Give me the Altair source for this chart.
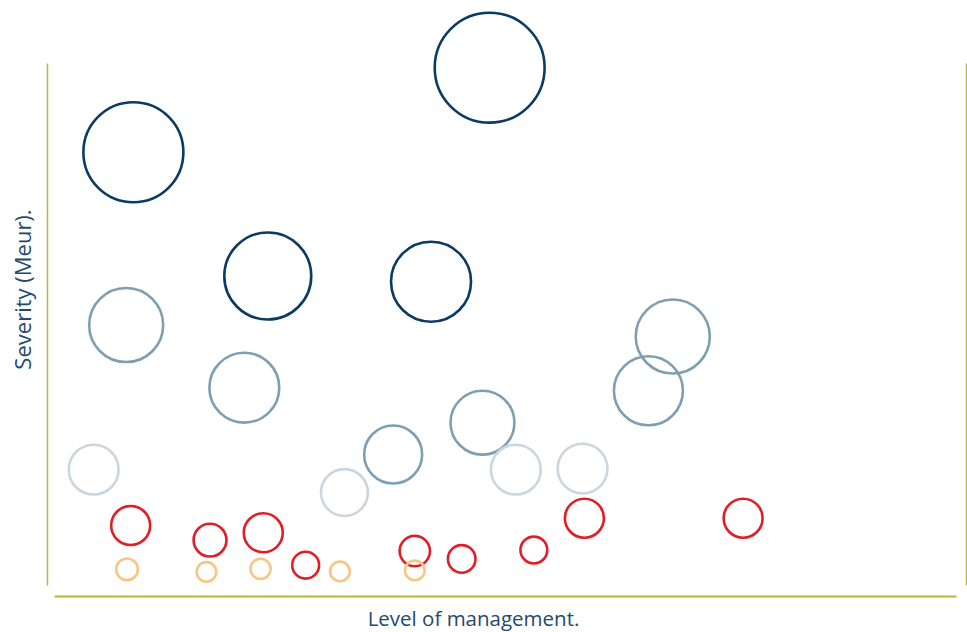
import altair as alt
import pandas as pd

# Risk bubbles: management level (x), severity (y), bubble magnitude and risk tier
level = [8.8, 48.3, 23.7, 41.8,
         8.0, 21.1, 68.6, 65.9, 47.5, 37.6,
         4.4, 32.2, 51.2, 58.6,
         8.5, 17.3, 23.2, 27.9, 40.0, 45.2, 53.2, 58.8, 76.4,
         8.1, 16.9, 22.9, 31.7, 40.0]
severity = [82.9, 99.1, 59.2, 58.1,
            49.8, 37.8, 47.6, 37.2, 31.1, 25.0,
            22.1, 17.7, 22.1, 22.3,
            11.4, 8.6, 10.0, 3.8, 6.5, 5.0, 6.7, 12.8, 12.8,
            3.0, 2.5, 3.1, 2.6, 2.8]
magnitude = [250, 302, 189, 160,
             137, 122, 137, 119, 102, 84,
             62, 55, 62, 62,
             38, 27, 38, 18, 23, 19, 18, 38, 38,
             11.7, 9.6, 10.2, 9.6, 9.6]
tier = (["Critical"] * 4 + ["High"] * 6 + ["Medium"] * 4
        + ["Low"] * 9 + ["Minor"] * 5)

tiers = ["Critical", "High", "Medium", "Low", "Minor"]
tier_colors = ["#0B3A63", "#7F9EB1", "#CBD6DE", "#E01E28", "#F8C684"]

df = pd.DataFrame({"level": level, "severity": severity,
                   "magnitude": magnitude, "tier": tier})

AXIS_COLOR = "#B7B639"
TEXT_COLOR = "#24496E"
FONT = "Open Sans"

x_scale = alt.Scale(domain=[0, 100], nice=False, zero=False)
y_scale = alt.Scale(domain=[0, 100], nice=False, zero=False)

bubbles = alt.Chart(df).mark_point(shape="circle", filled=False, strokeWidth=2.6,
                                   opacity=1).encode(
    x=alt.X("level:Q", scale=x_scale,
            axis=alt.Axis(title="Level of management.", orient="bottom", offset=11,
                          ticks=False, labels=False, grid=False,
                          domainColor=AXIS_COLOR, domainWidth=2,
                          titleFont=FONT, titleFontSize=20.5,
                          titleFontWeight="normal", titleColor=TEXT_COLOR,
                          titlePadding=13, titleX=419)),
    y=alt.Y("severity:Q", scale=y_scale,
            axis=alt.Axis(title="Severity (Meur).", orient="left", offset=7,
                          ticks=False, labels=False, grid=False,
                          domainColor=AXIS_COLOR, domainWidth=1.5,
                          titleFont=FONT, titleFontSize=22,
                          titleFontWeight="normal", titleColor=TEXT_COLOR,
                          titlePadding=12, titleY=226)),
    # symbol size is the bounding-square area: (2r)^2
    size=alt.Size("magnitude:Q", scale=alt.Scale(domain=[0, 1000], range=[0, 40000]),
                  legend=None),
    color=alt.Color("tier:N", scale=alt.Scale(domain=tiers, range=tier_colors),
                    legend=None),
)

# Invisible layer that carries the right-hand frame line
right_frame = alt.Chart(df).mark_point(opacity=0).encode(
    x=alt.X("level:Q", scale=x_scale),
    y=alt.Y("severity:Q", scale=y_scale,
            axis=alt.Axis(title=None, orient="right", offset=10,
                          ticks=False, labels=False, grid=False,
                          domainColor=AXIS_COLOR, domainWidth=1.5)),
)

chart = alt.layer(bubbles, right_frame).resolve_axis(y="independent").properties(
    width=902, height=522,
    autosize=alt.AutoSizeParams(type="none"),
    padding={"left": 54, "top": 63, "right": 11, "bottom": 47},
    background="white",
).configure_view(stroke=None)

chart.save("out.html", embed_options={"renderer": "svg", "actions": False})
